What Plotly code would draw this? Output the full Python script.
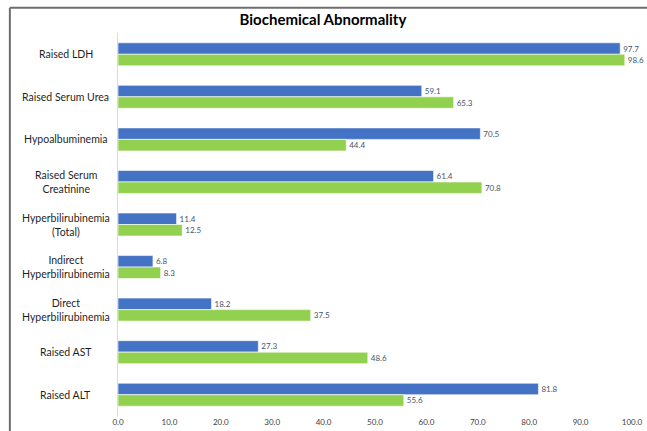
import plotly.graph_objects as go

categories = ["Raised LDH", "Raised Serum Urea", "Hypoalbuminemia",
              "Raised Serum<br>Creatinine", "Hyperbilirubinemia<br>(Total)",
              "Indirect<br>Hyperbilirubinemia", "Direct<br>Hyperbilirubinemia",
              "Raised AST", "Raised ALT"]
series_blue = [97.7, 59.1, 70.5, 61.4, 11.4, 6.8, 18.2, 27.3, 81.8]
series_green = [98.6, 65.3, 44.4, 70.8, 12.5, 8.3, 37.5, 48.6, 55.6]
x_ticks = [0, 10, 20, 30, 40, 50, 60, 70, 80, 90, 100]

FONT = "Lato"
TW, TH = 647, 431          # target picture size
W, H = 655, 439            # figure size
sx, sy = TW / W, TH / H

ml = round(116.5 / sx, 1)
mr = round(W - 632 / sx, 1)
mt = round(32 / sy, 1)
mb = round(H - 412 / sy, 1)
pw, ph = W - ml - mr, H - mt - mb


def px_x(p):
    return (p / sx - ml) / pw


def px_y(p):
    return (H - mb - p / sy) / ph


fig = go.Figure()
fig.add_trace(go.Bar(
    y=categories, x=series_blue, orientation="h", name="Series 1",
    marker=dict(color="#4472C4", line=dict(color="white", width=0.6)),
    text=[f"{v:.1f}" for v in series_blue], textposition="outside",
    textfont=dict(family=FONT, size=8, color="#44546A"), cliponaxis=False))
fig.add_trace(go.Bar(
    y=categories, x=series_green, orientation="h", name="Series 2",
    marker=dict(color="#92D050", line=dict(color="white", width=0.6)),
    text=[f"{v:.1f}" for v in series_green], textposition="outside",
    textfont=dict(family=FONT, size=8, color="#44546A"), cliponaxis=False))

annotations = []
for c in categories:
    annotations.append(dict(
        x=px_x(64), xref="paper", y=c, yref="y", text=c,
        showarrow=False, xanchor="center", yanchor="middle", align="center",
        font=dict(family=FONT, size=10.5, color="#1F1F1F")))

fig.update_layout(
    width=W, height=H,
    margin=dict(l=ml, r=mr, t=mt, b=mb),
    paper_bgcolor="white", plot_bgcolor="white",
    barmode="group", bargap=0.46, bargroupgap=0.0,
    showlegend=False,
    title=dict(text="<b>Biochemical Abnormality</b>", x=319 / TW, xanchor="center",
               y=1 - 19 / TH, yanchor="middle",
               font=dict(family=FONT, size=15, color="#000000")),
    xaxis=dict(range=[0, 100], tickvals=x_ticks, tickformat=".1f",
               showgrid=False, zeroline=False, showline=False, ticks="",
               tickfont=dict(family=FONT, size=8, color="#404040")),
    yaxis=dict(autorange="reversed", showticklabels=False, showgrid=False,
               zeroline=False, showline=True, linecolor="#D6DCE5", linewidth=1,
               ticks=""),
    annotations=annotations,
    shapes=[
        dict(type="line", xref="paper", yref="paper",
             x0=px_x(8), x1=px_x(8), y0=px_y(440), y1=px_y(7),
             line=dict(color="#6E6E6E", width=2), layer="below"),
        dict(type="line", xref="paper", yref="paper",
             x0=px_x(8), x1=px_x(660), y0=px_y(7), y1=px_y(7),
             line=dict(color="#6E6E6E", width=2), layer="below"),
    ],
)

fig.write_html("out.html")
